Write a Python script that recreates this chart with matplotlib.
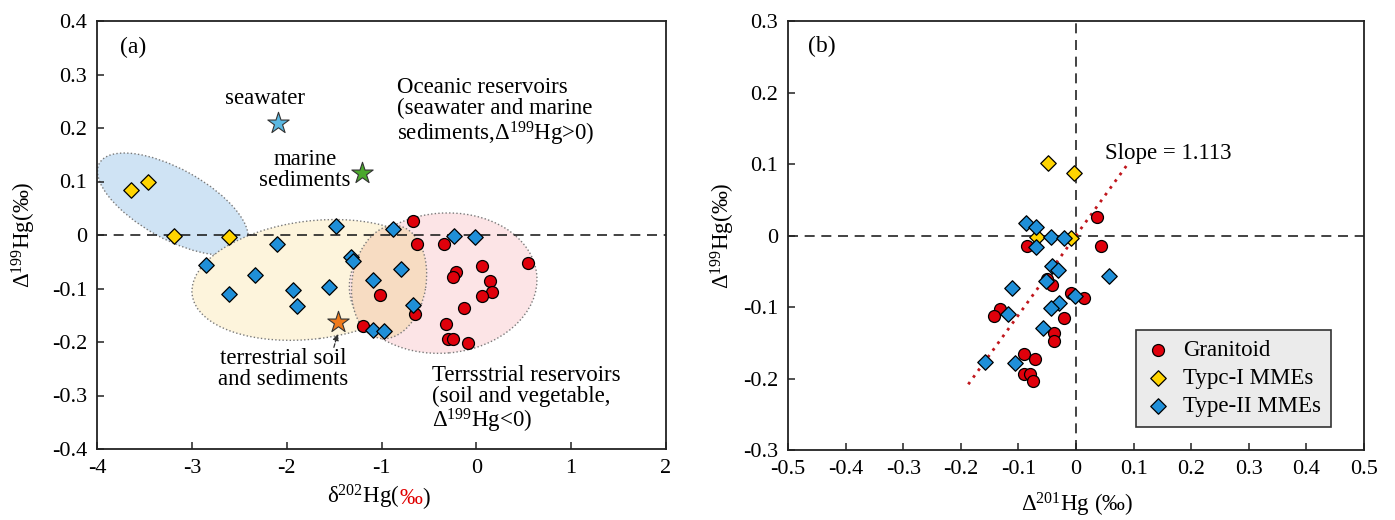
import matplotlib
matplotlib.use('Agg')
import matplotlib.pyplot as plt
from matplotlib.patches import Ellipse
from matplotlib.transforms import ScaledTranslation
from matplotlib.offsetbox import TextArea, HPacker, AnchoredOffsetbox
import numpy as np

plt.rcParams['font.family'] = ['Liberation Serif', 'DejaVu Serif']
plt.rcParams['mathtext.fontset'] = 'custom'
plt.rcParams['mathtext.rm'] = 'Liberation Serif'
plt.rcParams['mathtext.it'] = 'Liberation Serif:italic'
plt.rcParams['mathtext.bf'] = 'Liberation Serif:bold'
plt.rcParams['axes.unicode_minus'] = False

# ---------------- Panel (a) data ----------------
a_gran_x = [-0.663, -0.621, -0.336, -1.015, -0.646, -1.191, -0.213, -0.248, 0.058,
            0.146, 0.163, 0.058, -0.129, -0.319, -0.294, -0.248, -0.083, 0.55]
a_gran_y = [0.026, -0.016, -0.016, -0.112, -0.148, -0.171, -0.069, -0.079, -0.058,
            -0.086, -0.106, -0.114, -0.136, -0.166, -0.195, -0.195, -0.202, -0.052]
a_t1_x = [-3.645, -3.465, -3.188, -2.607]
a_t1_y = [0.084, 0.100, -0.002, -0.003]
a_t2_x = [-1.482, -0.881, -2.104, -2.853, -1.324, -1.303, -2.333, -1.092, -2.608,
          -1.929, -1.549, -1.887, -1.092, -0.972, -0.796, -0.663, -0.231, -0.013]
a_t2_y = [0.016, 0.011, -0.016, -0.056, -0.042, -0.048, -0.075, -0.084, -0.110,
          -0.102, -0.097, -0.133, -0.178, -0.179, -0.064, -0.131, -0.002, -0.004]
ref_names = ['seawater', 'marine sediments', 'terrestrial soil and sediments']
ref_x = [-2.091, -1.208, -1.455]
ref_y = [0.209, 0.115, -0.162]
ref_colors = ['#5ab8e2', '#4aa82c', '#f07a1a']

a_xticks = [-4, -3, -2, -1, 0, 1, 2]
a_xticklabels = ['-4', '-3', '-2', '-1', '0', '1', '2']
a_yticks = [-0.4, -0.3, -0.2, -0.1, 0, 0.1, 0.2, 0.3, 0.4]
a_yticklabels = ['-0.4', '-0.3', '-0.2', '-0.1', '0', '0.1', '0.2', '0.3', '0.4']

# ---------------- Panel (b) data ----------------
b_gran_x = [0.036, 0.043, -0.085, -0.042, -0.050, -0.009, 0.014, -0.132, -0.142,
            -0.020, -0.038, -0.038, -0.090, -0.072, -0.090, -0.080, -0.075]
b_gran_y = [0.026, -0.015, -0.015, -0.069, -0.061, -0.080, -0.088, -0.103, -0.113,
            -0.115, -0.136, -0.148, -0.166, -0.173, -0.194, -0.194, -0.203]
b_t1_x = [-0.049, -0.003, -0.068, -0.009]
b_t1_y = [0.102, 0.087, -0.002, -0.004]
b_t2_x = [-0.087, -0.070, -0.043, -0.021, -0.070, 0.058, -0.042, -0.032, -0.052,
          -0.111, -0.002, -0.029, -0.044, -0.118, -0.057, -0.106, -0.158]
b_t2_y = [0.017, 0.012, -0.002, -0.003, -0.016, -0.057, -0.043, -0.048, -0.063,
          -0.074, -0.084, -0.095, -0.101, -0.110, -0.130, -0.179, -0.177]
slope = 1.113
fit_x = [-0.187, 0.089]

b_xticks = [-0.5, -0.4, -0.3, -0.2, -0.1, 0, 0.1, 0.2, 0.3, 0.4, 0.5]
b_xticklabels = ['-0.5', '-0.4', '-0.3', '-0.2', '-0.1', '0', '0.1', '0.2', '0.3', '0.4', '0.5']
b_yticks = [-0.3, -0.2, -0.1, 0, 0.1, 0.2, 0.3]
b_yticklabels = ['-0.3', '-0.2', '-0.1', '0', '0.1', '0.2', '0.3']

legend_labels = ['Granitoid', 'Typc-I MMEs', 'Type-II MMEs']

RED = '#e0000b'
YEL = '#ffd400'
BLU = '#1f8fd8'

fig = plt.figure(figsize=(13.95, 5.2), dpi=100)
axa = fig.add_axes([97/1395, 1-449/520, 569/1395, 428/520])
axb = fig.add_axes([788/1395, 1-450/520, 576/1395, 429/520])

TICK_FS = 16
TXT_FS = 16.5
LAB_FS = 16.5
S_CIRC = 74
S_DIAM = 62

def style_axes(ax):
    for sp in ax.spines.values():
        sp.set_linewidth(1.3)
        sp.set_color('#222222')
    ax.tick_params(direction='in', length=5, width=1.1, labelsize=TICK_FS, pad=7,
                   top=False, right=False, colors='#222222', labelcolor='black')

# ---------------- Panel (a) ----------------
ax = axa
ax.set_xlim(-4, 2)
ax.set_ylim(-0.4, 0.4)
style_axes(ax)
ax.set_xticks(a_xticks)
ax.set_xticklabels(a_xticklabels)
ax.set_yticks(a_yticks)
ax.set_yticklabels(a_yticklabels)

def region(ax, cx, cy, a_px, b_px, ang, fc):
    tr = fig.dpi_scale_trans + ScaledTranslation(cx, cy, ax.transData)
    e = Ellipse((0, 0), 2*a_px/100, 2*b_px/100, angle=ang, transform=tr,
                facecolor=fc, edgecolor='#7a7a7a', lw=1.0, linestyle=(0, (1, 1.6)), zorder=1)
    ax.add_patch(e)

region(ax, -3.20, 0.058, 84, 35, -29, '#cfe3f4')
region(ax, -1.73, -0.084, 121, 59, 7, '#fdf4dc')
region(ax, -0.35, -0.090, 94, 70, 5, '#fce4e6')
region(ax, -0.92, -0.088, 57, 37, 81, '#f7dcc2')

ax.axhline(0, color='#222222', lw=1.2, ls=(0, (6, 4)), zorder=2)

ax.scatter(a_gran_x, a_gran_y, s=S_CIRC, marker='o', facecolor=RED, edgecolor='black', lw=0.9, zorder=4)
ax.scatter(a_t1_x, a_t1_y, s=S_DIAM, marker='D', facecolor=YEL, edgecolor='black', lw=0.9, zorder=5)
ax.scatter(a_t2_x, a_t2_y, s=S_DIAM, marker='D', facecolor=BLU, edgecolor='black', lw=0.9, zorder=6)
for x, y, c in zip(ref_x, ref_y, ref_colors):
    ax.scatter([x], [y], s=260, marker='*', facecolor=c, edgecolor='#333333', lw=0.8, zorder=7)

ax.text(-3.76, 0.351, '(a)', fontsize=17, ha='left', va='center')
ax.text(-2.228, 0.256, 'seawater', fontsize=TXT_FS, ha='center', va='center')
ax.text(-1.806, 0.121, 'marine\nsediments', fontsize=TXT_FS, ha='center', va='center', linespacing=1.0)
ax.text(-0.835, 0.229, 'Oceanic reservoirs\n(seawater and marine\nsediments,Δ$^{199}$Hg>0)',
        fontsize=TXT_FS, ha='left', va='center', linespacing=1.0)
ax.text(-2.038, -0.250, 'terrestrial soil\nand sediments', fontsize=TXT_FS, ha='center', va='center',
        linespacing=1.0)
ax.text(-0.466, -0.308, 'Terrsstrial reservoirs\n(soil and vegetable,\nΔ$^{199}$Hg<0)',
        fontsize=TXT_FS, ha='left', va='center', linespacing=1.0)
ax.annotate('', xy=(ref_x[2], ref_y[2] - 0.018), xytext=(-1.51, -0.215),
            arrowprops=dict(arrowstyle='-|>', color='#333333', lw=0.9, ls=(0, (3, 1.5)),
                            mutation_scale=9), zorder=8)

ax.set_ylabel('Δ$^{199}$Hg(‰)', fontsize=LAB_FS)
ax.yaxis.set_label_coords(-0.103, 0.5)
ta1 = TextArea('δ$^{202}$Hg(', textprops=dict(fontsize=LAB_FS, color='black'))
ta2 = TextArea('‰', textprops=dict(fontsize=LAB_FS, color='#e00000'))
ta3 = TextArea(')', textprops=dict(fontsize=LAB_FS, color='black'))
box = HPacker(children=[ta1, ta2, ta3], align='baseline', pad=0, sep=0)
anc = AnchoredOffsetbox(loc='center', child=box, frameon=False, bbox_to_anchor=(0.494, -0.112),
                        bbox_transform=ax.transAxes, borderpad=0, pad=0)
ax.add_artist(anc)

# ---------------- Panel (b) ----------------
ax = axb
ax.set_xlim(-0.5, 0.5)
ax.set_ylim(-0.3, 0.3)
style_axes(ax)
ax.set_xticks(b_xticks)
ax.set_xticklabels(b_xticklabels)
ax.set_yticks(b_yticks)
ax.set_yticklabels(b_yticklabels)

ax.axhline(0, color='#222222', lw=1.2, ls=(0, (6, 4)), zorder=2)
ax.axvline(0, color='#222222', lw=1.2, ls=(0, (6, 4)), zorder=2)
fx = np.array(fit_x)
ax.plot(fx, slope*fx, color='#c0161c', lw=2.0, ls=(0, (1, 2.0)), zorder=3)

h1 = ax.scatter(b_gran_x, b_gran_y, s=S_CIRC, marker='o', facecolor=RED, edgecolor='black', lw=0.9, zorder=4)
h2 = ax.scatter(b_t1_x, b_t1_y, s=S_DIAM, marker='D', facecolor=YEL, edgecolor='black', lw=0.9, zorder=5)
h3 = ax.scatter(b_t2_x, b_t2_y, s=S_DIAM, marker='D', facecolor=BLU, edgecolor='black', lw=0.9, zorder=6)

ax.text(-0.465, 0.265, '(b)', fontsize=17, ha='left', va='center')
ax.text(0.05, 0.114, 'Slope = 1.113', fontsize=TXT_FS, ha='left', va='center')

leg = ax.legend([h1, h2, h3], legend_labels, loc='lower left', bbox_to_anchor=(0.604, 0.053),
                borderaxespad=0, fontsize=16.5, frameon=True, fancybox=False, framealpha=1,
                facecolor='#ebebeb', edgecolor='#333333', labelspacing=0.3,
                handletextpad=0.6, borderpad=0.45, handlelength=1.0)
leg.get_frame().set_linewidth(1.2)

ax.set_ylabel('Δ$^{199}$Hg(‰)', fontsize=LAB_FS)
ax.yaxis.set_label_coords(-0.089, 0.5)
ax.set_xlabel('Δ$^{201}$Hg (‰)', fontsize=LAB_FS)
ax.xaxis.set_label_coords(0.502, -0.095)

fig.savefig('out.png', dpi=100, facecolor='white')
